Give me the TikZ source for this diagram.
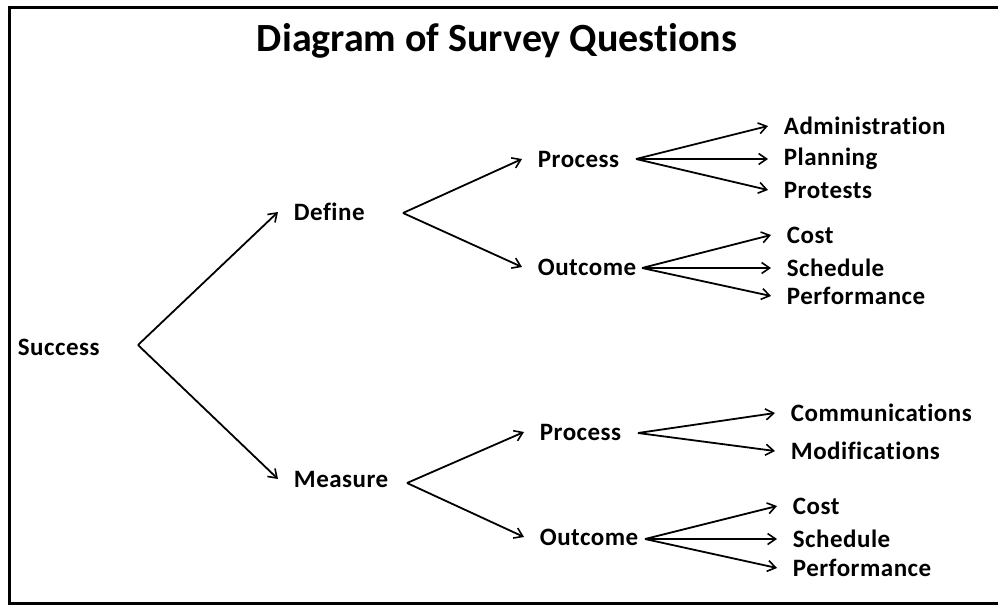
\documentclass[tikz,border=0pt]{standalone}
\usepackage{fontspec}
\setmainfont[Ligatures=NoCommon]{Carlito}
\newfontfamily\labelfont[LetterSpace=2,Ligatures=NoCommon]{Carlito}
\usetikzlibrary{positioning,arrows.meta}

\begin{document}
\begin{tikzpicture}[
  x=1pt,y=-1pt,
  every node/.style={anchor=west,inner xsep=15,inner ysep=2,
    font=\labelfont\fontsize{25}{28}\selectfont\bfseries},
  title/.style={anchor=center,inner sep=0,
    font=\fontsize{40}{46}\selectfont\bfseries},
  every path/.style={line width=1.8,-{Straight Barb[length=8,width=11,line width=1.6]}},
  frame/.style={line width=3,-},
  ]
  \useasboundingbox (0,0) rectangle (998,605);
  \draw[frame] (1010,7.5) -| (9,603) -- (1010,603);
  \node[title](ttl) at (497,41){Diagram of Survey Questions};
  % first level
  \node(succ) at (2,347){Success};
  \node(def) at (278,212){Define};
  \node(meas) at (278,479){Measure};
  % second level
  \node(proc1) at (522,159){Process};
  \node(out1) at (522,267){Outcome};
  \node(proc2) at (524,432){Process};
  \node(out2) at (524,537){Outcome};
  % leaves
  \node(adm) at (768,126){Administration};
  \node(plan) at (768,159){Planning};
  \node(prot) at (768,190){Protests};
  \node(cost1) at (771,235){Cost};
  \node(sched1) at (771,268){Schedule};
  \node(perf1) at (771,296){Performance};
  \node(comm) at (775,413){Communications};
  \node(mod) at (775,451){Modifications};
  \node(cost2) at (777,506){Cost};
  \node(sched2) at (777,539){Schedule};
  \node(perf2) at (777,568){Performance};
  % fork points
  \coordinate(succ-f) at (138,345);
  \coordinate(def-f) at (403,213);
  \coordinate(meas-f) at (407,483);
  \coordinate(proc1-f) at (636,159);
  \coordinate(out1-f) at (642,268);
  \coordinate(proc2-f) at (638,433);
  \coordinate(out2-f) at (645,539);
  \path
  (succ-f) edge (def.west)
  (succ-f) edge (meas.west)
  (def-f) edge (proc1.west)
  (def-f) edge (out1.west)
  (meas-f) edge (proc2.west)
  (meas-f) edge (out2.west)
  (proc1-f) edge (adm.west)
  (proc1-f) edge (plan.west)
  (proc1-f) edge (prot.west)
  (out1-f) edge (cost1.west)
  (out1-f) edge (sched1.west)
  (out1-f) edge (perf1.west)
  (proc2-f) edge (comm.west)
  (proc2-f) edge (mod.west)
  (out2-f) edge (cost2.west)
  (out2-f) edge (sched2.west)
  (out2-f) edge (perf2.west);
\end{tikzpicture}
\end{document}
